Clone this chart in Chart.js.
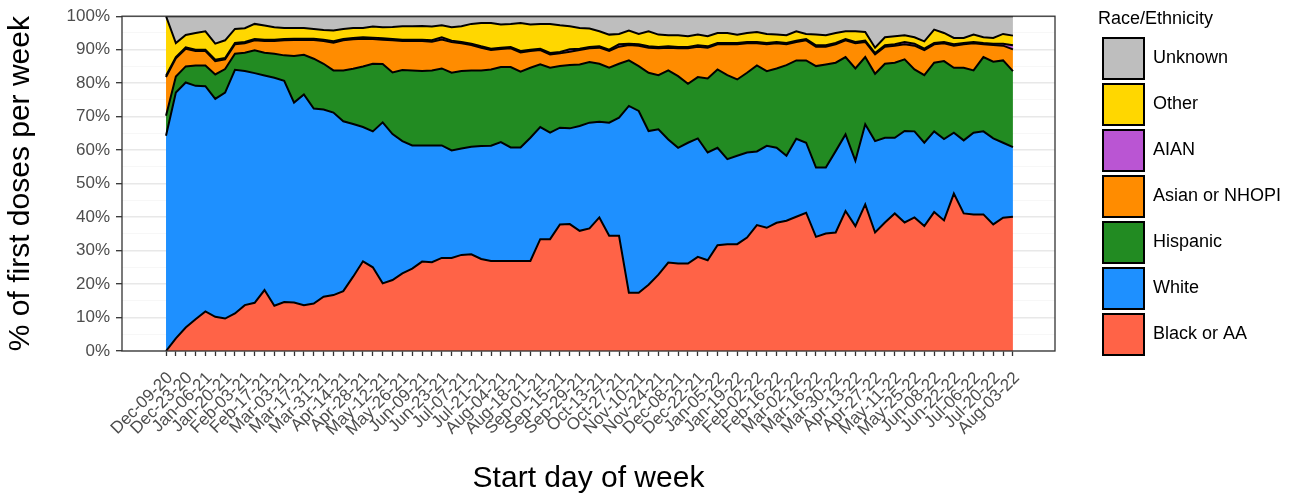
<!DOCTYPE html>
<html>
<head>
<meta charset="utf-8">
<title>First doses per week by race/ethnicity</title>
<script src="https://cdn.jsdelivr.net/npm/chart.js@4.4.1/dist/chart.umd.min.js"></script>
<style>
  html, body { margin: 0; padding: 0; background: #fff; }
  #wrap { width: 1293px; height: 494px; position: relative; }
</style>
</head>
<body>
<div id="wrap"><canvas id="chart"></canvas></div>
<script>
// week start dates (one per week, every other one is labelled)
const weeks = [
  'Dec-09-20','Dec-16-20','Dec-23-20','Dec-30-20','Jan-06-21','Jan-13-21','Jan-20-21','Jan-27-21',
  'Feb-03-21','Feb-10-21','Feb-17-21','Feb-24-21','Mar-03-21','Mar-10-21','Mar-17-21','Mar-24-21',
  'Mar-31-21','Apr-07-21','Apr-14-21','Apr-21-21','Apr-28-21','May-05-21','May-12-21','May-19-21',
  'May-26-21','Jun-02-21','Jun-09-21','Jun-16-21','Jun-23-21','Jun-30-21','Jul-07-21','Jul-14-21',
  'Jul-21-21','Jul-28-21','Aug-04-21','Aug-11-21','Aug-18-21','Aug-25-21','Sep-01-21','Sep-08-21',
  'Sep-15-21','Sep-22-21','Sep-29-21','Oct-06-21','Oct-13-21','Oct-20-21','Oct-27-21','Nov-03-21',
  'Nov-10-21','Nov-17-21','Nov-24-21','Dec-01-21','Dec-08-21','Dec-15-21','Dec-22-21','Dec-29-21',
  'Jan-05-22','Jan-12-22','Jan-19-22','Jan-26-22','Feb-02-22','Feb-09-22','Feb-16-22','Feb-23-22',
  'Mar-02-22','Mar-09-22','Mar-16-22','Mar-23-22','Mar-30-22','Apr-06-22','Apr-13-22','Apr-20-22',
  'Apr-27-22','May-04-22','May-11-22','May-18-22','May-25-22','Jun-01-22','Jun-08-22','Jun-15-22',
  'Jun-22-22','Jun-29-22','Jul-06-22','Jul-13-22','Jul-20-22','Jul-27-22','Aug-03-22'
];

// % of first doses per week
const blackAA = [
  0, 3.8, 7.0, 9.5, 11.8, 10.2, 9.7, 11.2, 13.7, 14.4, 18.2, 13.5, 14.6, 14.5, 13.7, 14.2,
  16.2, 16.7, 17.9, 22.2, 26.8, 25.0, 20.2, 21.2, 23.2, 24.6, 26.7, 26.5, 27.8, 27.8, 28.7, 28.9,
  27.5, 26.9, 26.9, 26.9, 26.9, 26.9, 33.4, 33.4, 37.8, 37.9, 35.9, 36.6, 39.9, 34.4, 34.4, 17.4,
  17.4, 19.8, 22.8, 26.4, 26.1, 26.1, 28.1, 27.1, 31.6, 31.9, 31.9, 33.9, 37.6, 36.8, 38.3, 38.9,
  40.1, 41.3, 34.1, 35.1, 35.4, 41.8, 37.3, 43.8, 35.4, 38.4, 41.1, 38.4, 39.9, 37.3, 41.5, 39.0,
  47.0, 41.1, 40.8, 40.8, 37.8, 39.8, 40.1
];
const white = [
  64.3, 73.4, 73.2, 69.7, 67.3, 65.1, 67.5, 72.8, 69.9, 68.6, 64.1, 68.1, 66.1, 59.7, 62.9, 58.2,
  55.9, 54.5, 50.7, 45.6, 40.1, 40.6, 48.1, 43.6, 39.5, 36.8, 34.7, 34.9, 33.6, 32.1, 31.8, 32.1,
  33.7, 34.4, 35.5, 33.9, 33.9, 36.8, 33.5, 31.8, 28.9, 28.6, 31.3, 31.6, 28.6, 33.8, 35.3, 55.8,
  54.3, 45.9, 43.4, 36.8, 34.6, 36.1, 35.4, 32.2, 29.1, 25.4, 26.4, 25.4, 22.0, 24.5, 22.4, 19.4,
  23.3, 20.9, 20.7, 19.7, 24.3, 22.9, 19.5, 23.9, 27.3, 25.3, 22.6, 27.3, 25.7, 24.9, 24.1, 24.3,
  18.2, 21.8, 24.4, 24.8, 25.7, 22.4, 20.8
];
const hispanic = [
  6.0, 4.8, 4.8, 6.1, 6.2, 7.3, 7.0, 4.8, 5.5, 6.8, 6.8, 7.2, 7.6, 13.9, 11.9, 14.9,
  13.7, 12.6, 15.2, 16.5, 18.1, 20.2, 17.4, 18.4, 21.2, 22.4, 22.2, 22.4, 23.0, 23.2, 23.1, 22.8,
  22.6, 22.8, 22.4, 24.0, 22.6, 20.9, 18.7, 19.4, 18.4, 18.9, 18.4, 18.1, 17.3, 16.4, 16.1, 13.6,
  13.4, 17.4, 16.2, 20.6, 21.4, 17.6, 18.3, 22.1, 23.4, 25.1, 22.8, 23.8, 25.7, 22.3, 23.7, 27.1,
  23.4, 24.6, 30.3, 30.8, 26.4, 23.1, 27.6, 20.1, 20.1, 22.1, 22.4, 21.4, 18.5, 20.2, 20.5, 23.3,
  19.4, 21.7, 18.6, 22.2, 22.9, 24.6, 22.7
];
const asianNHOPI = [
  11.5, 5.4, 5.3, 4.3, 4.3, 4.0, 2.9, 2.8, 2.8, 3.0, 3.5, 3.8, 4.5, 4.8, 4.4, 5.6,
  6.8, 8.3, 9.0, 8.8, 8.3, 7.4, 7.3, 9.6, 8.7, 8.8, 9.0, 8.6, 8.6, 9.2, 8.3, 7.6,
  6.8, 5.8, 5.4, 5.6, 5.8, 5.0, 4.3, 4.0, 3.8, 4.0, 4.3, 4.1, 4.8, 5.0, 5.1, 4.6,
  6.1, 7.5, 8.0, 6.8, 8.3, 10.6, 9.1, 9.2, 7.5, 9.2, 10.5, 8.8, 6.6, 8.0, 7.5, 6.2,
  5.5, 6.0, 5.8, 5.3, 5.5, 5.0, 7.5, 4.5, 5.8, 5.1, 5.1, 4.5, 7.1, 7.5, 5.5, 5.3,
  6.6, 7.0, 8.1, 3.8, 5.0, 4.4, 6.5
];
const aian = [
  0.4, 0.4, 0.4, 0.4, 0.4, 0.4, 0.4, 0.4, 0.4, 0.4, 0.4, 0.4, 0.4, 0.4, 0.4, 0.4,
  0.4, 0.4, 0.4, 0.4, 0.4, 0.4, 0.4, 0.4, 0.4, 0.4, 0.4, 0.4, 0.7, 0.4, 0.4, 0.4,
  0.4, 0.4, 0.4, 0.4, 0.4, 0.4, 0.4, 0.4, 0.4, 0.7, 0.4, 0.4, 0.4, 0.4, 0.7, 0.4,
  0.4, 0.4, 0.4, 0.4, 0.4, 0.4, 0.4, 0.4, 0.4, 0.4, 0.4, 0.4, 0.4, 0.4, 0.4, 0.4,
  0.4, 0.4, 0.4, 0.4, 0.4, 0.4, 0.4, 0.4, 0.4, 0.4, 0.4, 0.7, 0.6, 0.4, 0.4, 0.4,
  0.4, 0.4, 0.4, 0.4, 0.4, 0.6, 1.2
];
const other = [
  17.8, 4.2, 3.7, 5.0, 5.5, 4.8, 5.3, 4.2, 4.1, 4.5, 4.2, 3.7, 3.3, 3.2, 3.2, 2.9,
  2.9, 3.2, 3.0, 3.0, 2.8, 3.3, 3.3, 3.6, 4.0, 4.0, 4.1, 4.1, 3.6, 4.0, 4.7, 5.9,
  7.0, 7.7, 6.9, 6.9, 8.4, 7.5, 7.4, 8.7, 8.0, 6.9, 6.2, 5.5, 4.5, 4.5, 3.1, 3.9,
  3.1, 4.5, 3.7, 3.3, 3.5, 3.2, 3.2, 3.0, 3.0, 3.0, 2.5, 2.7, 3.0, 2.7, 2.2, 2.3,
  2.8, 1.5, 3.2, 3.0, 3.0, 2.3, 3.2, 2.6, 1.6, 2.4, 2.4, 2.0, 1.9, 2.2, 4.0, 2.7,
  1.9, 1.5, 2.2, 1.7, 1.7, 2.9, 2.9
];
const unknown = [
  0, 8.0, 5.6, 5.0, 4.5, 8.2, 7.2, 3.8, 3.6, 2.3, 2.8, 3.3, 3.5, 3.5, 3.5, 3.8,
  4.1, 4.3, 3.8, 3.5, 3.5, 3.1, 3.3, 3.2, 3.0, 3.0, 2.9, 3.1, 2.7, 3.3, 3.0, 2.3,
  2.0, 2.0, 2.5, 2.3, 2.0, 2.5, 2.3, 2.3, 2.7, 3.0, 3.5, 3.7, 4.5, 5.5, 5.3, 4.3,
  5.3, 4.5, 5.5, 5.7, 5.7, 6.0, 5.5, 6.0, 5.0, 5.0, 5.5, 5.0, 4.7, 5.3, 5.5, 5.7,
  4.5, 5.3, 5.5, 5.7, 5.0, 4.5, 4.5, 4.7, 9.4, 6.3, 6.0, 5.7, 6.3, 7.5, 4.0, 5.0,
  6.5, 6.5, 5.5, 6.3, 6.5, 5.3, 5.8
];

const FONT = "'Liberation Sans', Arial, sans-serif";

// bottom to top of the stack
const series = [
  { label: 'Black or AA', data: blackAA, color: '#FF6347' },
  { label: 'White', data: white, color: '#1E90FF' },
  { label: 'Hispanic', data: hispanic, color: '#228B22' },
  { label: 'Asian or NHOPI', data: asianNHOPI, color: '#FF8C00' },
  { label: 'AIAN', data: aian, color: '#BA55D3' },
  { label: 'Other', data: other, color: '#FFD700' },
  { label: 'Unknown', data: unknown, color: '#BEBEBE' }
];

// grey frame round the plotting panel
const panelBorder = {
  id: 'panelBorder',
  afterDatasetsDraw(chart) {
    const { ctx, chartArea: a } = chart;
    ctx.save();
    ctx.strokeStyle = '#333333';
    ctx.lineWidth = 1.3;
    ctx.strokeRect(a.left, a.top, a.right - a.left, a.bottom - a.top);
    ctx.restore();
  }
};

// move the legend box to where it sits in the original
const legendPlace = {
  id: 'legendPlace',
  afterLayout(chart) {
    const lg = chart.legend;
    lg.left = 1098; lg.right = 1293;
    lg.top = 10; lg.bottom = 494;
    lg.width = lg.right - lg.left;
  }
};

const isMajor = c => c.tick && c.tick.value % 10 === 0;

new Chart(document.getElementById('chart'), {
  type: 'line',
  data: {
    datasets: series.map((s, k) => ({
      label: s.label,
      data: s.data.map((v, i) => ({ x: i, y: v })),
      backgroundColor: s.color,
      borderColor: '#000000',
      borderWidth: 2,
      pointRadius: 0,
      tension: 0,
      fill: k === 0 ? 'origin' : '-1'
    }))
  },
  options: {
    responsive: true,
    maintainAspectRatio: false,
    animation: false,
    layout: { padding: { top: 16, right: 88, bottom: 0, left: 0 } },
    plugins: {
      tooltip: { enabled: false },
      legend: {
        position: 'right',
        align: 'start',
        reverse: true,
        maxWidth: 150,
        title: {
          display: true, text: 'Race/Ethnicity', position: 'start', color: '#000',
          font: { family: FONT, size: 18, lineHeight: 1 }, padding: { top: 0, bottom: 5 }
        },
        labels: {
          boxWidth: 41, boxHeight: 41, padding: 5, color: '#000',
          font: { family: FONT, size: 18 }
        }
      }
    },
    scales: {
      x: {
        type: 'linear',
        min: -4.47,
        max: 90.27,
        afterBuildTicks: axis => { axis.ticks = weeks.map((w, i) => ({ value: i })); },
        afterFit: s => { s.height = 143; },
        ticks: {
          autoSkip: false, minRotation: 45, maxRotation: 45, padding: 12, labelOffset: 4,
          color: '#4d4d4d', font: { family: FONT, size: 17 },
          callback: v => (v % 2 === 0 ? weeks[v] : '')
        },
        grid: { drawOnChartArea: false, tickLength: 5, tickColor: '#333333', tickWidth: 1.3 },
        border: { display: false },
        title: {
          display: true, text: 'Start day of week', color: '#000',
          font: { family: FONT, size: 30, lineHeight: 1 }, padding: { top: 0, bottom: 0 }
        }
      },
      y: {
        stacked: true,
        min: 0,
        max: 100,
        afterFit: s => { s.width = 122; },
        ticks: {
          stepSize: 5, autoSkip: false, padding: 6,
          color: '#4d4d4d', font: { family: FONT, size: 17 },
          callback: v => (v % 10 === 0 ? v + '%' : '')
        },
        grid: {
          color: c => (isMajor(c) ? '#e8e8e8' : '#f4f4f4'),
          lineWidth: c => (isMajor(c) ? 1.4 : 0.7),
          tickLength: 6,
          tickColor: c => (isMajor(c) ? '#333333' : 'rgba(0,0,0,0)'),
          tickWidth: 1.3
        },
        border: { display: false },
        title: {
          display: true, text: '% of first doses per week', color: '#000',
          font: { family: FONT, size: 30, lineHeight: 1.2 }, padding: { top: 3, bottom: 0 }
        }
      }
    }
  },
  plugins: [panelBorder, legendPlace]
});
</script>
</body>
</html>
